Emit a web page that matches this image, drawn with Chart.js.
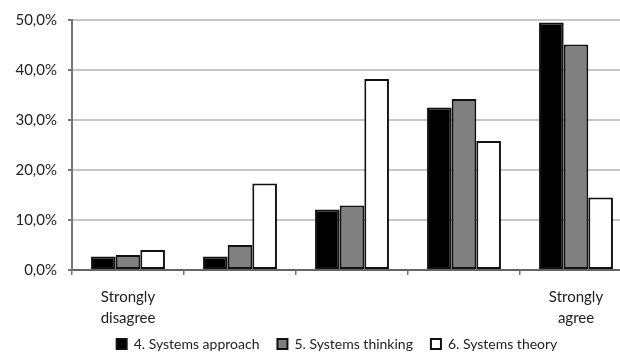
<!DOCTYPE html>
<html>
<head>
<meta charset="utf-8">
<script src="https://cdn.jsdelivr.net/npm/chart.js@4/dist/chart.umd.min.js"></script>
<style>
  html, body { margin: 0; padding: 0; background: #fff; overflow: hidden; }
  #wrap { position: absolute; left: 0; top: 0; width: 640px; height: 353px; }
</style>
</head>
<body>
<div id="wrap"><canvas id="c" width="640" height="353"></canvas></div>
<script>
// Answer scale, from "Strongly disagree" to "Strongly agree"
const categories = [['Strongly', 'disagree'], '', '', '', ['Strongly', 'agree']];

// Share of respondents per answer (%)
const systemsApproach = [2.7, 2.7, 12.1, 32.5, 49.5];
const systemsThinking = [3.0, 5.0, 12.9, 34.2, 45.1];
const systemsTheory   = [4.0, 17.3, 38.2, 25.8, 14.5];

const seriesNames = ['4. Systems approach', '5. Systems thinking', '6. Systems theory'];
const yTicks = [0, 10, 20, 30, 40, 50];

const FONT = 'Lato, "Open Sans", sans-serif';
const TEXT = '#222';

// Let the two-line category labels run into the legend band, and place the legend row
const bottomBand = {
  id: 'bottomBand',
  afterLayout(chart) {
    chart.scales.x.bottom = chart.height;
    const l = chart.legend;
    const dy = 8, dx = 21;
    l.top += dy; l.bottom += dy;
    l.left += dx; l.right += dx;
  }
};

const bar = (label, data, fill) => ({
  label, data,
  backgroundColor: fill,
  borderColor: '#111',
  borderWidth: 2,
  borderSkipped: false,
  barPercentage: 1,
  categoryPercentage: 0.66
});

new Chart(document.getElementById('c'), {
  type: 'bar',
  data: {
    labels: categories,
    datasets: [
      bar(seriesNames[0], systemsApproach, '#000000'),
      bar(seriesNames[1], systemsThinking, '#808080'),
      bar(seriesNames[2], systemsTheory, '#ffffff')
    ]
  },
  options: {
    responsive: false,
    animation: false,
    devicePixelRatio: 1,
    layout: { padding: { top: 19, right: 8, left: 0, bottom: 0 } },
    plugins: {
      tooltip: { enabled: false },
      legend: {
        position: 'bottom',
        labels: {
          color: TEXT,
          font: { family: FONT, size: 14 },
          boxWidth: 10,
          boxHeight: 10,
          padding: 18
        }
      }
    },
    scales: {
      x: {
        grid: {
          offset: true,
          drawOnChartArea: false,
          drawTicks: true,
          tickLength: 5,
          tickColor: '#777',
          lineWidth: 1.5
        },
        border: { display: true, color: '#666', width: 2 },
        ticks: {
          color: TEXT,
          font: { family: FONT, size: 15, lineHeight: 1.4 },
          padding: 12,
          maxRotation: 0,
          autoSkip: false
        },
        afterFit(s) { s.height = 41; }
      },
      y: {
        min: 0,
        max: 50,
        afterBuildTicks(s) { s.ticks = yTicks.map(v => ({ value: v })); },
        grid: {
          color: '#c6c6c6',
          lineWidth: 2,
          drawTicks: true,
          tickLength: 4,
          tickColor: '#777'
        },
        border: { display: true, color: '#777', width: 2 },
        ticks: {
          color: TEXT,
          font: { family: FONT, size: 15 },
          padding: 11,
          callback: v => v.toFixed(1).replace('.', ',') + '%'
        },
        afterFit(s) { s.width = 72; }
      }
    }
  },
  plugins: [bottomBand]
});
</script>
</body>
</html>
